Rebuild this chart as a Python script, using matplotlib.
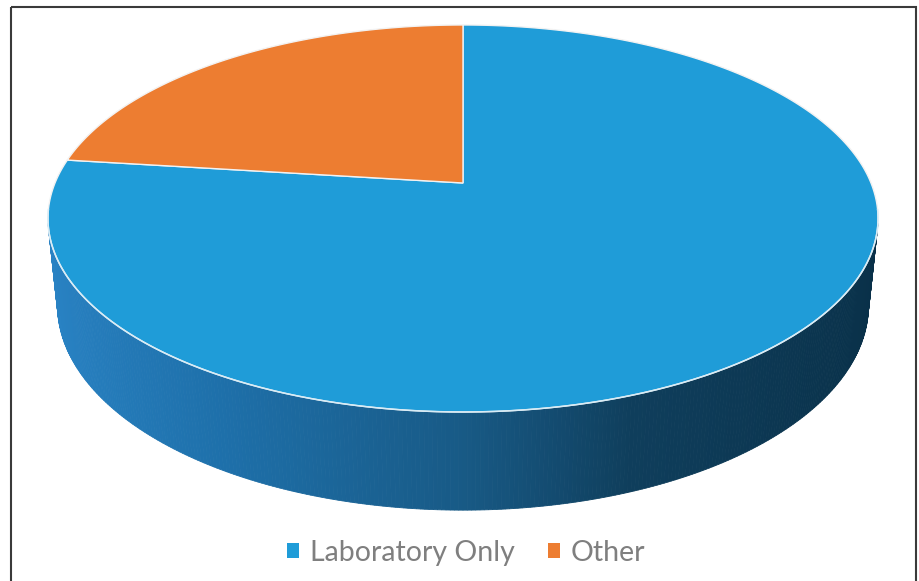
import numpy as np
import matplotlib
matplotlib.use('Agg')
import matplotlib.pyplot as plt
from matplotlib.patches import Polygon, Rectangle, Patch

# ---- data ----
categories = ['Laboratory Only', 'Other']
values = [77, 23]
colors = ['#1f9cd8', '#ed7d31']

# ---- figure ----
W, H = 920, 581
fig = plt.figure(figsize=(9.2, 5.81), dpi=100)
ax = fig.add_axes([0, 0, 1, 1])
ax.set_xlim(0, W)
ax.set_ylim(H, 0)
ax.axis('off')

# ---- perspective camera for the 3-D pie ----
cx, cy = 463.0, 183.0
elev = np.arcsin(187.0 / 408.0)
d = np.cos(elev) / 0.1834
F = 408.0 * d
depth = 0.2416


def proj(u, v, z):
    yc = v * np.sin(elev) + z * np.cos(elev)
    zc = v * np.cos(elev) + d - z * np.sin(elev)
    return cx + F * u / zc, cy - F * yc / zc


# slice angles: first slice starts at 12 o'clock, going clockwise
fracs = np.array(values, dtype=float) / np.sum(values)
starts = 90.0 - 360.0 * np.concatenate([[0], np.cumsum(fracs)[:-1]])
ends = starts - 360.0 * fracs

# ---- side wall (only the front, visible part) ----
cstops = [-1.0, -0.5, 0.0, 0.35, 1.0]
rstops = [42, 30, 24, 15, 9]
gstops = [132, 112, 90, 62, 48]
bstops = [198, 170, 134, 92, 72]


def side_color(c):
    return (np.interp(c, cstops, rstops) / 255,
            np.interp(c, cstops, gstops) / 255,
            np.interp(c, cstops, bstops) / 255)


kcut = -1.0 / (d * np.cos(elev))
thetas = np.linspace(180, 360, 361)
for i in range(len(thetas) - 1):
    t0, t1 = np.radians(thetas[i]), np.radians(thetas[i + 1])
    if np.sin(t0) > kcut + 0.02 and np.sin(t1) > kcut + 0.02:
        continue
    pts = [proj(np.cos(t0), np.sin(t0), 0), proj(np.cos(t1), np.sin(t1), 0),
           proj(np.cos(t1), np.sin(t1), -depth), proj(np.cos(t0), np.sin(t0), -depth)]
    col = side_color(np.cos(0.5 * (t0 + t1)))
    ax.add_patch(Polygon(pts, closed=True, facecolor=col, edgecolor=col, lw=0.6, zorder=1))

# ---- top face ----
for s, e, col in zip(starts, ends, colors):
    th = np.radians(np.linspace(s, e, 300))
    xs, ys = proj(np.cos(th), np.sin(th), 0)
    x0, y0 = proj(0.0, 0.0, 0.0)
    pts = np.column_stack([np.r_[x0, xs], np.r_[y0, ys]])
    ax.add_patch(Polygon(pts, closed=True, facecolor=col, edgecolor='#f2f2f2', lw=1.0, zorder=3))

# rim highlight along the front edge
th = np.radians(np.linspace(188, 352, 300))
xs, ys = proj(np.cos(th), np.sin(th), 0)
ax.plot(xs, ys, color='#d8ecf6', lw=1.1, zorder=4)

# ---- frame ----
ax.add_patch(Rectangle((11, 6.5), 905.5, 620, fill=False, edgecolor='#3a3a3a', lw=1.5, zorder=5))

# ---- legend ----
handles = [Patch(facecolor=c, edgecolor='none', label=l) for l, c in zip(categories, colors)]
fig.legend(handles=handles, loc='center', bbox_to_anchor=(466 / W, 1 - 553 / H), ncol=2,
           frameon=False, prop={'family': 'Lato', 'size': 20.5}, labelcolor='#7f7f7f',
           handlelength=0.42, handleheight=0.42, handletextpad=0.4, columnspacing=1.15)

fig.savefig('out.png', dpi=100)
